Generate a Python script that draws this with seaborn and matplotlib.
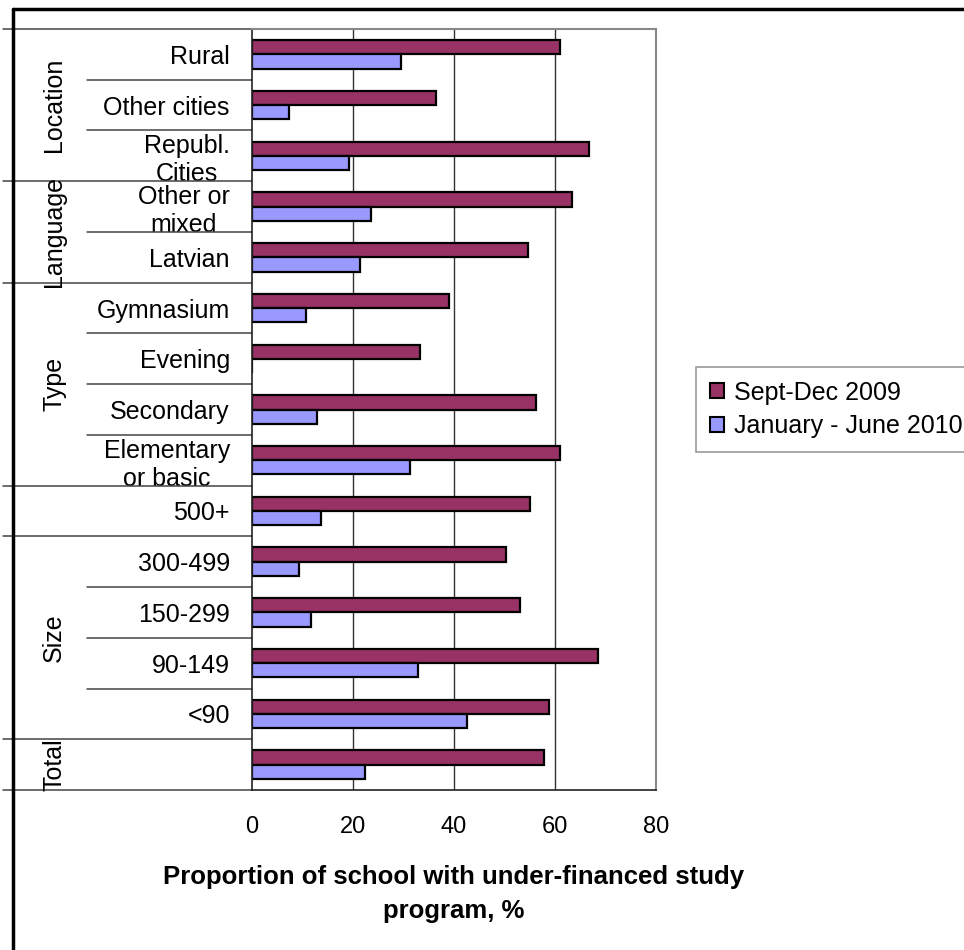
import matplotlib
matplotlib.use('Agg')
import matplotlib.pyplot as plt
import matplotlib.transforms as mtransforms
from matplotlib import font_manager
from matplotlib.lines import Line2D
from matplotlib.patches import Patch
import seaborn as sns
import pandas as pd

# Data (top to bottom)
groups = ['Location', 'Location', 'Location', 'Language', 'Language',
          'Type', 'Type', 'Type', 'Type', '', 'Size', 'Size', 'Size', 'Size', 'Total']
labels = ['Rural', 'Other cities', 'Republ.\nCities', 'Other or\nmixed', 'Latvian',
          'Gymnasium', 'Evening', 'Secondary', 'Elementary\nor basic', '500+',
          '300-499', '150-299', '90-149', '<90', '']
sept_dec_2009 = [60.9, 36.4, 66.8, 63.3, 54.6, 39.1, 33.2, 56.2, 60.9, 55.0,
                 50.2, 53.0, 68.5, 58.9, 57.8]
jan_jun_2010 = [29.6, 7.4, 19.3, 23.6, 21.3, 10.6, 0.0, 12.9, 31.2, 13.7,
                9.4, 11.7, 32.8, 42.6, 22.4]
series = ['Sept-Dec 2009', 'January - June 2010']
colors = ['#993366', '#9999FF']

keys = [f'{g}|{l}' for g, l in zip(groups, labels)]
df = pd.DataFrame({
    'key': keys * 2,
    'value': sept_dec_2009 + jan_jun_2010,
    'period': [series[0]] * len(keys) + [series[1]] * len(keys),
})

sns.set_style('white')
installed = {f.name for f in font_manager.fontManager.ttflist}
narrow = 'Liberation Sans Narrow' if 'Liberation Sans Narrow' in installed else 'Liberation Sans'
plt.rcParams['font.family'] = ['Liberation Sans', 'DejaVu Sans']
plt.rcParams['text.color'] = 'black'
plt.rcParams['axes.labelcolor'] = 'black'
plt.rcParams['xtick.color'] = 'black'
plt.rcParams['ytick.color'] = 'black'

W, H = 964, 950
fig = plt.figure(figsize=(W / 100, H / 100), dpi=100)
ax = fig.add_axes([252 / W, 1 - 790 / H, 404 / W, 761 / H])

sns.barplot(data=df, y='key', x='value', hue='period', hue_order=series,
            palette=colors, saturation=1, orient='h', width=0.56, errorbar=None,
            edgecolor='black', linewidth=1.6, legend=False, ax=ax)

n = len(keys)
ax.set_xlim(0, 80)
ax.set_ylim(n - 0.5, -0.5)
ax.set_xticks([0, 20, 40, 60, 80])
ax.set_xticklabels(['0', '20', '40', '60', '80'], fontsize=17, family=narrow)
ax.tick_params(axis='x', direction='out', length=6, width=1, color='#333333',
               labelcolor='black', pad=13)
ax.set_yticks(range(n))
ax.set_yticklabels(labels, fontsize=18, multialignment='center', color='black')
ax.tick_params(axis='y', length=0, pad=16)
ax.set_yticks([i - 0.5 for i in range(n + 1)], minor=True)
ax.tick_params(axis='y', which='minor', direction='out', length=6, width=1, color='#333333')

for v in [20, 40, 60]:
    ax.axvline(v, color='#333333', linewidth=1, zorder=0)

for side in ['top', 'right']:
    ax.spines[side].set_color('#888888')
    ax.spines[side].set_linewidth(1.5)
for side in ['left', 'bottom']:
    ax.spines[side].set_color('#222222')
    ax.spines[side].set_linewidth(1.2)

ax.set_xlabel('Proportion of school with under-financed study\nprogram, %',
              fontsize=18.5, fontweight='bold', family=narrow, labelpad=19,
              linespacing=1.55, color='black')
ax.set_ylabel('')

# multi-level category axis: group separators and group names
trans = mtransforms.blended_transform_factory(ax.transAxes, ax.transData)
long_x0 = (3 - 252) / 404
short_x0 = (87 - 252) / 404
for i in range(n + 1):
    is_group_edge = i == 0 or i == n or groups[i] != groups[i - 1]
    x0 = long_x0 if is_group_edge else short_x0
    ax.add_line(Line2D([x0, 0], [i - 0.5, i - 0.5], transform=trans,
                       color='#444444', linewidth=1.1, clip_on=False))

group_x = (54 - 252) / 404
start = 0
for i in range(1, n + 1):
    if i == n or groups[i] != groups[start]:
        if groups[start]:
            ax.text(group_x, (start + i - 1) / 2, groups[start], transform=trans,
                    rotation=90, ha='center', va='center', fontsize=18, color='black')
        start = i

handles = [Patch(facecolor=c, edgecolor='black', linewidth=1.5) for c in colors]
leg = fig.legend(handles, series, loc='upper left',
                 bbox_to_anchor=(696 / W, 1 - 367 / H), fontsize=18,
                 frameon=True, fancybox=False, handlelength=0.55, handleheight=0.55,
                 handletextpad=0.4, borderpad=0.55, labelspacing=0.38,
                 borderaxespad=0)
leg.get_frame().set_edgecolor('#808080')
leg.get_frame().set_linewidth(1.2)

# outer chart-area border (left and top visible)
fig.add_artist(Line2D([13 / W, 13 / W], [0, 1 - 9 / H], transform=fig.transFigure,
                      color='black', linewidth=2.5))
fig.add_artist(Line2D([13 / W, 1], [1 - 9 / H, 1 - 9 / H], transform=fig.transFigure,
                      color='black', linewidth=2.5))

fig.savefig('out.png', dpi=100)
